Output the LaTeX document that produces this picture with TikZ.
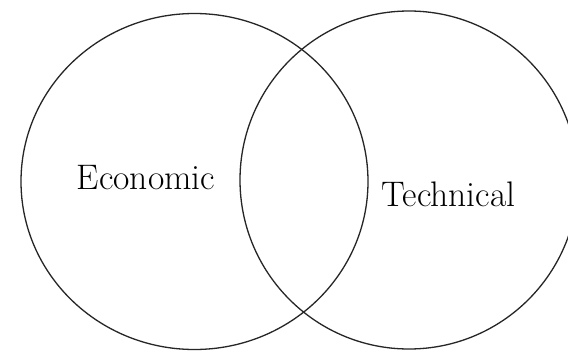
\documentclass[tikz,border=0pt]{standalone}
\usetikzlibrary{shapes.geometric}
\begin{document}
\begin{tikzpicture}[x=1pt,y=1pt,
  ring/.style={draw=black!85,line width=1.3pt,ellipse,inner sep=0pt},
  lbl/.style={font=\fontsize{35.5}{40}\selectfont,anchor=base,inner sep=0pt}]
\clip (0,0) rectangle (568,-351);
\fill[white] (0,0) rectangle (568,-351);
\node[ring,minimum width=347pt,minimum height=336pt] (econ) at (194.5,-181.5) {};
\node[ring,minimum width=338pt,minimum height=338pt] (tech) at (409,-180) {};
\node[lbl] (econlabel) at (146,-189) {Economic};
\node[lbl] (techlabel) at (448.5,-206) {Technical};
\end{tikzpicture}
\end{document}
